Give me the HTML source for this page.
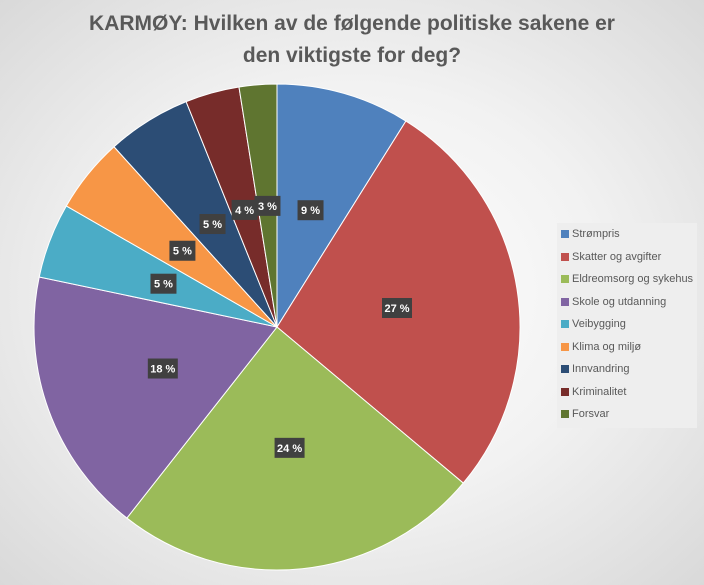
<!DOCTYPE html>
<html><head><meta charset="utf-8"><style>
body{margin:0;width:704px;height:585px;overflow:hidden;font-family:"Liberation Sans",sans-serif}
#wrap{position:relative;width:704px;height:585px;background:radial-gradient(ellipse at center,#ffffff 0%,#f2f2f2 50%,#d9d9d9 100%)}
#title{position:absolute;left:0;top:8px;width:704px;text-align:center;font-size:21px;font-weight:bold;color:#595959;line-height:32px}
#legend{position:absolute;left:557px;top:223px;width:140px;height:205px;background:#eeeeee}
.li{position:absolute;left:4px;font-size:11px;color:#595959;display:flex;align-items:center}
.li span{display:inline-block;width:8px;height:8px;margin-right:3px}
</style></head><body>
<div id="wrap">
<div id="title">KARMØY: Hvilken av de følgende politiske sakene er<br>den viktigste for deg?</div>
<svg id="pie" width="704" height="585" style="position:absolute;left:0;top:0"></svg>
<div id="legend"></div>
</div>
<script>
const categories=["Strømpris","Skatter og avgifter","Eldreomsorg og sykehus","Skole og utdanning","Veibygging","Klima og miljø","Innvandring","Kriminalitet","Forsvar"];
const values=[8.9,27.2,24.5,17.7,5.0,5.0,5.6,3.6,2.5];
const labels=["9 %","27 %","24 %","18 %","5 %","5 %","5 %","4 %","3 %"];
const colors=["#4f81bd","#c0504d","#9bbb59","#8064a2","#4bacc6","#f79646","#2c4d75","#772c2a","#5f7530"];
const cx=277,cy=327,r=243;
const svg=document.getElementById('pie');
const NS="http://www.w3.org/2000/svg";
const total=values.reduce((a,b)=>a+b,0);
function pt(frac,rad){const a=frac*2*Math.PI;return [cx+rad*Math.sin(a),cy-rad*Math.cos(a)];}
let cum=0;
values.forEach((v,i)=>{
  const f0=cum/total,f1=(cum+v)/total;cum+=v;
  const p0=pt(f0,r),p1=pt(f1,r);
  const large=(f1-f0)>0.5?1:0;
  const path=document.createElementNS(NS,'path');
  path.setAttribute('d',`M${cx},${cy}L${p0[0]},${p0[1]}A${r},${r} 0 ${large} 1 ${p1[0]},${p1[1]}Z`);
  path.setAttribute('fill',colors[i]);
  path.setAttribute('stroke','#ffffff');
  path.setAttribute('stroke-width','1');
  
  
  svg.appendChild(path);
});
cum=0;
values.forEach((v,i)=>{
  const fm=(cum+v/2)/total;cum+=v;
  const p=pt(fm,r*0.5);
  const w=labels[i].length>3?30:26;
  const g=document.createElementNS(NS,'g');
  
  
  const rc=document.createElementNS(NS,'rect');
  rc.setAttribute('x',p[0]-w/2);rc.setAttribute('y',p[1]-10);
  rc.setAttribute('width',w);rc.setAttribute('height',20);
  rc.setAttribute('fill','#404040');
  g.appendChild(rc);
  const t=document.createElementNS(NS,'text');
  t.setAttribute('x',p[0]);t.setAttribute('y',p[1]+4);
  t.setAttribute('text-anchor','middle');t.setAttribute('fill','#fff');
  t.setAttribute('font-size','11');t.setAttribute('font-weight','bold');
  t.setAttribute('font-family','Liberation Sans, sans-serif');
  t.textContent=labels[i];
  g.appendChild(t);
  svg.appendChild(g);
});
const lg=document.getElementById('legend');
categories.forEach((c,i)=>{
  const d=document.createElement('div');
  d.className='li';
  d.style.top=(5+i*22.5)+'px';
  
  
  d.innerHTML=`<span style="background:${colors[i]}"></span>${c}`;
  lg.appendChild(d);
});
</script>
</body></html>
